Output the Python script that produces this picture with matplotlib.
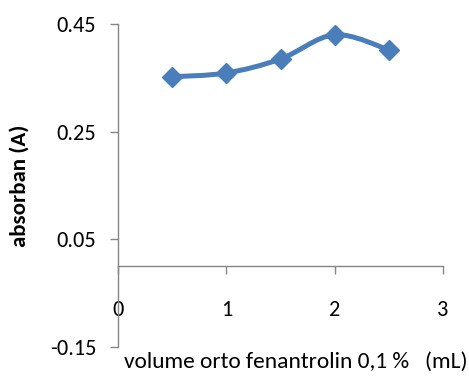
import matplotlib.pyplot as plt
from matplotlib.path import Path
from matplotlib.patches import PathPatch

plt.rcParams['font.family'] = ['Carlito', 'Liberation Sans', 'DejaVu Sans']

# data
volume = [0.5, 1.0, 1.5, 2.0, 2.5]
absorban = [0.352, 0.359, 0.385, 0.430, 0.402]

x_ticks = [0, 1, 2, 3]
y_ticks = [-0.15, 0.05, 0.25, 0.45]
y_tick_labels = ["-0.15", "0.05", "0.25", "0.45"]

LINE_COLOR = "#4a7ebb"
AXIS_COLOR = "#868686"


def smooth_path(xs, ys, t=1 / 6):
    # excel-like smoothed line: catmull-rom segments as cubic bezier
    verts = [(xs[0], ys[0])]
    codes = [Path.MOVETO]
    n = len(xs)
    for i in range(n - 1):
        x0, y0 = (xs[i - 1], ys[i - 1]) if i > 0 else (xs[i], ys[i])
        x1, y1 = xs[i], ys[i]
        x2, y2 = xs[i + 1], ys[i + 1]
        x3, y3 = (xs[i + 2], ys[i + 2]) if i + 2 < n else (x2, y2)
        verts += [(x1 + (x2 - x0) * t, y1 + (y2 - y0) * t),
                  (x2 - (x3 - x1) * t, y2 - (y3 - y1) * t),
                  (x2, y2)]
        codes += [Path.CURVE4] * 3
    return Path(verts, codes)


fig = plt.figure(figsize=(4.69, 3.76), dpi=100)
ax = fig.add_axes([118 / 469, 1 - 347 / 376, 325 / 469, 323 / 376])

ax.add_patch(PathPatch(smooth_path(volume, absorban), facecolor="none",
                       edgecolor=LINE_COLOR, linewidth=3.6, capstyle="round"))
ax.plot(volume, absorban, linestyle="none", marker="D", markersize=10.5,
        color=LINE_COLOR)

ax.set_xlim(0, 3)
ax.set_ylim(-0.15, 0.45)
ax.set_xticks(x_ticks)
ax.set_yticks(y_ticks)
ax.set_yticklabels(y_tick_labels)

ax.spines["top"].set_visible(False)
ax.spines["right"].set_visible(False)
ax.spines["bottom"].set_position(("data", 0))
for s in ("left", "bottom"):
    ax.spines[s].set_color(AXIS_COLOR)
    ax.spines[s].set_linewidth(1.0)

ax.tick_params(axis="both", colors=AXIS_COLOR, length=5.5, width=1.0,
               labelsize=16, labelcolor="black")
ax.tick_params(axis="x", pad=19)
ax.tick_params(axis="y", pad=10)

ax.set_ylabel("absorban (A)", fontsize=16.5, fontweight="bold")
ax.yaxis.set_label_coords(-0.303, 0.5)
ax.yaxis.label.set_verticalalignment("center")
ax.set_xlabel("volume orto fenantrolin 0,1 %   (mL)", fontsize=16.8)
ax.xaxis.set_label_coords(0.546, -0.046)
ax.xaxis.label.set_verticalalignment("center")

fig.savefig("out.png", dpi=100)
